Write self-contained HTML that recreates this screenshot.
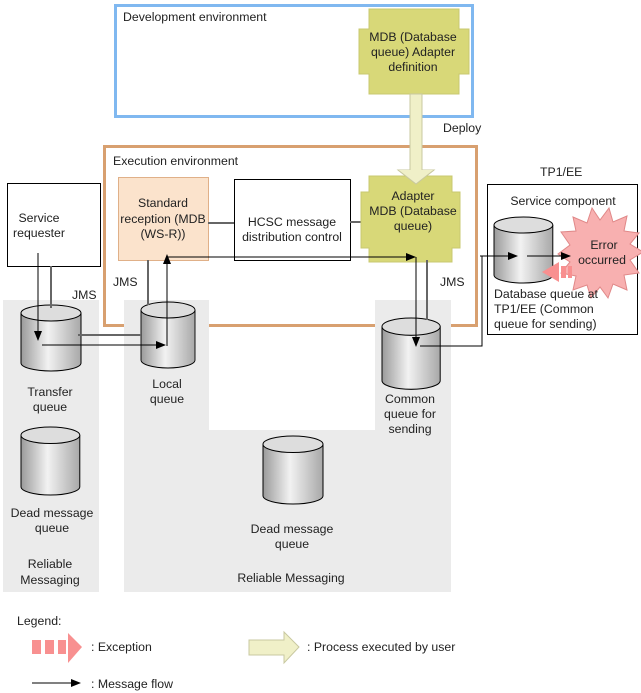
<!DOCTYPE html>
<html><head><meta charset="utf-8"><style>
html,body{margin:0;padding:0;background:#fff;}
svg{display:block;}
text{font-family:"Liberation Sans",sans-serif;font-size:12.3px;fill:#222;}
</style></head><body>
<svg width="641" height="693" viewBox="0 0 641 693" xmlns="http://www.w3.org/2000/svg">
<defs>
<linearGradient id="cyl" x1="0" x2="1" y1="0" y2="0">
<stop offset="0" stop-color="#9a9a9a"/><stop offset="0.45" stop-color="#f2f2f2"/><stop offset="1" stop-color="#a8a8a8"/>
</linearGradient>
<marker id="ah" markerWidth="10" markerHeight="8" refX="9" refY="4" orient="auto" markerUnits="userSpaceOnUse">
<path d="M0,0 L10,4 L0,8 z" fill="#000"/></marker>
<g id="cy">
<path d="M0,8 L0,58 A30,8 0 0 0 60,58 L60,8" fill="url(#cyl)" stroke="#000" stroke-width="1"/>
<ellipse cx="30" cy="8" rx="30" ry="8" fill="#ddd" stroke="#000" stroke-width="1"/>
</g>
</defs>

<!-- dev env -->
<rect x="115.5" y="5.5" width="357" height="111" fill="none" stroke="#80b8f0" stroke-width="3"/>
<text x="123" y="21">Development environment</text>
<path d="M369,9 H459 V29 H469 V74 H459 V94 H369 V74 H359 V29 H369 Z" fill="#d8d878" stroke="#c8c870"/>
<text x="413" y="41" text-anchor="middle">MDB (Database</text>
<text x="413" y="56" text-anchor="middle">queue) Adapter</text>
<text x="413" y="71" text-anchor="middle">definition</text>

<!-- exec env -->
<rect x="104.5" y="146.5" width="372" height="179" fill="none" stroke="#d8a070" stroke-width="3"/>
<text x="113" y="165">Execution environment</text>

<!-- gray regions (over orange border) -->
<rect x="3" y="300" width="96" height="292" fill="#ebebeb"/>
<path d="M124,300 H209 V430 H375 V300 H451 V592 H124 Z" fill="#ebebeb"/>

<!-- deploy arrow -->
<path d="M410,94 H422 V170 H434 L416,184 L398,170 H410 Z" fill="#f0f0c8" stroke="#c8c8a0"/>
<text x="443" y="132">Deploy</text>

<!-- standard reception -->
<rect x="118.5" y="177.5" width="90" height="83" fill="#fbe3cc" stroke="#e0b088"/>
<text x="163" y="207" text-anchor="middle">Standard</text>
<text x="163" y="223" text-anchor="middle">reception (MDB</text>
<text x="163" y="238" text-anchor="middle">(WS-R))</text>
<line x1="208" y1="223" x2="234" y2="223" stroke="#666" stroke-width="2"/>
<rect x="234.5" y="179.5" width="116" height="81" fill="#fff" stroke="#000"/>
<text x="292" y="226" text-anchor="middle">HCSC message</text>
<text x="292" y="241" text-anchor="middle">distribution control</text>
<line x1="350" y1="222" x2="361" y2="222" stroke="#666" stroke-width="2"/>

<!-- adapter -->
<path d="M369,176 H452 V192 H460 V248 H452 V262 H369 V248 H361 V192 H369 Z" fill="#d8d878" stroke="#c8c870"/>
<path d="M398,170 L416,184 L434,170 Z" fill="#f0f0c8"/>
<path d="M398,170 L416,184 L434,170" fill="none" stroke="#c8c8a0"/>
<text x="413" y="200" text-anchor="middle">Adapter</text>
<text x="413" y="215" text-anchor="middle">MDB (Database</text>
<text x="413" y="230" text-anchor="middle">queue)</text>

<!-- service requester -->
<rect x="7.5" y="183.5" width="93" height="83" fill="#fff" stroke="#000"/>
<text x="39" y="222" text-anchor="middle">Service</text>
<text x="39" y="237" text-anchor="middle">requester</text>

<!-- JMS labels -->
<text x="72" y="299">JMS</text>
<text x="113" y="286">JMS</text>
<text x="440" y="286">JMS</text>

<!-- cylinders -->
<use href="#cy" transform="translate(21,305)"/>
<use href="#cy" transform="translate(141,302) scale(0.9,1)"/>
<use href="#cy" transform="translate(382,318) scale(0.97,1.08)"/>
<use href="#cy" transform="translate(21,427) scale(0.98,1.03)"/>
<use href="#cy" transform="translate(263,436) scale(1,1.03)"/>

<!-- gray connectors -->
<line x1="51" y1="266" x2="51" y2="308" stroke="#666" stroke-width="2"/>
<line x1="78" y1="335" x2="141" y2="335" stroke="#666" stroke-width="2"/>
<line x1="148" y1="260" x2="148" y2="305" stroke="#666" stroke-width="2"/>
<line x1="427" y1="260" x2="427" y2="320" stroke="#666" stroke-width="2"/>

<!-- message flows -->
<line x1="38" y1="253" x2="38" y2="340" stroke="#000" marker-end="url(#ah)"/>
<line x1="42" y1="345" x2="165" y2="345" stroke="#000" marker-end="url(#ah)"/>
<line x1="167" y1="346" x2="167" y2="255" stroke="#000" marker-end="url(#ah)"/>
<line x1="167" y1="257" x2="415" y2="257" stroke="#000" marker-end="url(#ah)"/>
<line x1="416" y1="257" x2="416" y2="346" stroke="#000" marker-end="url(#ah)"/>
<polyline points="420,346 482,346 482,256 517,256" fill="none" stroke="#000" marker-end="url(#ah)"/>

<!-- labels -->
<text x="50" y="396" text-anchor="middle">Transfer</text>
<text x="50" y="411" text-anchor="middle">queue</text>
<text x="167" y="388" text-anchor="middle">Local</text>
<text x="167" y="403" text-anchor="middle">queue</text>
<text x="410" y="403" text-anchor="middle">Common</text>
<text x="410" y="418" text-anchor="middle">queue for</text>
<text x="410" y="433" text-anchor="middle">sending</text>
<text x="52" y="517" text-anchor="middle">Dead message</text>
<text x="52" y="532" text-anchor="middle">queue</text>
<text x="50" y="568" text-anchor="middle">Reliable</text>
<text x="50" y="584" text-anchor="middle">Messaging</text>
<text x="292" y="533" text-anchor="middle">Dead message</text>
<text x="292" y="548" text-anchor="middle">queue</text>
<text x="291" y="582" text-anchor="middle">Reliable Messaging</text>

<!-- TP1/EE -->
<text x="540" y="176">TP1/EE</text>
<rect x="487.5" y="184.5" width="150" height="150" fill="#fff" stroke="#000"/>
<text x="563" y="205" text-anchor="middle">Service component</text>
<use href="#cy" transform="translate(494,217) scale(0.98,1)"/>
<line x1="480" y1="256" x2="517" y2="256" stroke="#000" marker-end="url(#ah)"/>
<polygon points="643,252 630,260 639,273 624,275 627,290 613,284 608,298 600,287 591,298 587,285 573,290 576,276 561,273 570,262 558,254 570,245 561,232 576,231 573,217 587,223 592,208 600,220 609,208 613,222 627,216 624,231 639,233 630,244" fill="#f8b0b0" stroke="#e08888"/>
<line x1="527" y1="256" x2="570" y2="256" stroke="#000" marker-end="url(#ah)"/>
<text x="604" y="249" text-anchor="middle">Error</text>
<text x="602" y="264" text-anchor="middle">occurred</text>
<path d="M542,272 L559,262 V282 Z" fill="#f89090"/>
<rect x="561" y="266" width="5" height="12" fill="#f89090"/>
<rect x="568" y="266" width="4" height="12" fill="#f89090"/>
<text x="494" y="298">Database queue at</text>
<text x="494" y="313">TP1/EE (Common</text>
<text x="494" y="328">queue for sending)</text>

<!-- legend -->
<text x="17" y="625">Legend:</text>
<rect x="32" y="640" width="9" height="14" fill="#f89090"/>
<rect x="45" y="640" width="9" height="14" fill="#f89090"/>
<rect x="58" y="640" width="8" height="14" fill="#f89090"/>
<path d="M68,633 L82,647 L68,663 Z" fill="#f89090"/>
<text x="91" y="651">: Exception</text>
<path d="M249,640 H284 V632 L299,647 L284,663 V655 H249 Z" fill="#f0f0c8" stroke="#c8c8a0"/>
<text x="307" y="651">: Process executed by user</text>
<line x1="32" y1="683" x2="80" y2="683" stroke="#000" marker-end="url(#ah)"/>
<text x="91" y="688">: Message flow</text>
</svg>
</body></html>
